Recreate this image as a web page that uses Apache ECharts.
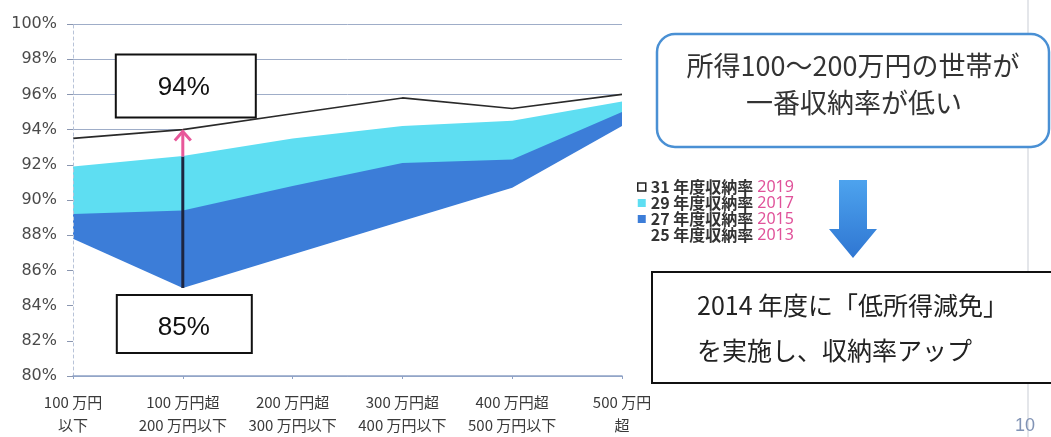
<!DOCTYPE html>
<html><head><meta charset="utf-8">
<script src="https://cdn.jsdelivr.net/npm/echarts@6/dist/echarts.min.js"></script>
<style>html,body{margin:0;padding:0;background:#fff;}#c{width:1051px;height:437px;}</style>
</head><body><div id="c"></div>
<script>
const categories = ['100 万円\n以下', '100 万円超\n200 万円以下', '200 万円超\n300 万円以下', '300 万円超\n400 万円以下', '400 万円超\n500 万円以下', '500 万円\n超'];
const yMin = 80, yMax = 100, yStep = 2;
const rate2019 = [93.5, 94.0, 94.9, 95.8, 95.2, 96.0];
const rate2017 = [91.9, 92.5, 93.5, 94.2, 94.5, 95.6];
const rate2015 = [89.2, 89.4, 90.8, 92.1, 92.3, 95.0];
const rate2013 = [87.8, 85.0, 86.9, 88.8, 90.7, 94.2];
const seriesNames = ['31 年度収納率', '29 年度収納率', '27 年度収納率', '25 年度収納率'];
const seriesYears = ['2019', '2017', '2015', '2013'];
const highlightIndex = 1;
const calloutTitle = ['所得100～200万円の世帯が', '一番収納率が低い'];
const noteLines = ['2014 年度に「低所得減免」', 'を実施し、収納率アップ'];

const CYAN = '#5edef2', BLUE = '#3c7dd8';
const chart = echarts.init(document.getElementById('c'), null, {renderer: 'canvas'});

function areaSeries(name, data, color, line) {
  return {
    name, type: 'line', data, symbol: 'none', silent: true, smooth: false,
    lineStyle: line ? {color: '#2a2a2a', width: 1.6} : {width: 0, opacity: 0},
    itemStyle: {color},
    areaStyle: {color, opacity: 1, origin: 'start'}
  };
}

const legendStyles = [
  {color: '#fff', borderColor: '#222', borderWidth: 1.5},
  {color: CYAN},
  {color: BLUE},
  {color: 'rgba(0,0,0,0)', borderWidth: 0}
];

chart.setOption({
  animation: false,
  grid: {left: 73, right: 429, top: 24, bottom: 57, containLabel: false},
  xAxis: [{
    type: 'category', data: categories, boundaryGap: false, z: 5,
    axisLine: {lineStyle: {color: '#8fa2c6', width: 1.5}},
    axisTick: {show: true, length: 3, lineStyle: {color: '#8fa2c6'}},
    axisLabel: {margin: 15, interval: 0, fontFamily: 'Noto Sans CJK JP', fontSize: 15, lineHeight: 23, color: '#3a3a3a'}
  }],
  yAxis: [{
    type: 'value', min: yMin, max: yMax, interval: yStep, z: 5,
    axisLine: {show: true, lineStyle: {color: '#b8c3d8', type: [3, 3]}},
    axisTick: {show: true, length: 6, lineStyle: {color: '#8a96b0'}},
    axisLabel: {margin: 16, formatter: '{value}%', fontFamily: 'DejaVu Sans', fontSize: 16, color: '#4a4a4a'},
    splitLine: {show: false}
  }, {
    type: 'value', min: yMin, max: yMax, interval: yStep, position: 'left',
    axisLine: {show: false}, axisTick: {show: false}, axisLabel: {show: false},
    splitLine: {show: true, lineStyle: {color: '#9fadc8', width: 1}}
  }],
  legend: {
    orient: 'vertical', left: 637, top: 179, itemWidth: 8, itemHeight: 8, itemGap: 0, padding: 0,
    icon: 'rect', selectedMode: false,
    data: seriesNames.map((n, i) => ({name: n, itemStyle: legendStyles[i]})),
    formatter: name => `{a|${name}}{b|${seriesYears[seriesNames.indexOf(name)]}}`,
    textStyle: {
      lineHeight: 16,
      rich: {
        a: {fontFamily: 'Noto Sans CJK JP', fontSize: 16, fontWeight: 'bold', color: '#333', lineHeight: 16},
        b: {fontFamily: 'Noto Sans', fontSize: 16, color: '#e0529a', padding: [0, 0, 0, 4], lineHeight: 16}
      }
    }
  },
  series: [
    areaSeries(seriesNames[0], rate2019, '#ffffff', true),
    areaSeries(seriesNames[1], rate2017, CYAN, false),
    areaSeries(seriesNames[2], rate2015, BLUE, false),
    areaSeries(seriesNames[3], rate2013, '#ffffff', false)
  ]
});

const pTop = chart.convertToPixel({xAxisIndex: 0, yAxisIndex: 0}, [highlightIndex, rate2019[highlightIndex]]);
const pBot = chart.convertToPixel({xAxisIndex: 0, yAxisIndex: 0}, [highlightIndex, rate2013[highlightIndex]]);
const ax = pTop[0], yT = pTop[1], yB = pBot[1];
const Z = 100;
const cjk = '"Noto Sans CJK JP", sans-serif';

chart.setOption({
  graphic: [
    {type: 'line', z: 0, shape: {x1: 1028, y1: 0, x2: 1028, y2: 437}, style: {stroke: '#e4e6ea', lineWidth: 2}},
    {type: 'line', z: Z, shape: {x1: ax, y1: yB, x2: ax, y2: yT + 27}, style: {stroke: '#1d2540', lineWidth: 3}},
    {type: 'line', z: Z, shape: {x1: ax, y1: yT + 27, x2: ax, y2: yT + 3}, style: {stroke: '#e8589a', lineWidth: 3}},
    {type: 'polyline', z: Z, shape: {points: [[ax - 8, yT + 11], [ax, yT + 2], [ax + 8, yT + 11]]}, style: {stroke: '#e8589a', lineWidth: 3, fill: null}},
    {type: 'rect', z: Z, shape: {x: ax - 67, y: yT - 75, width: 140, height: 63}, style: {fill: '#fff', stroke: '#111', lineWidth: 2}},
    {type: 'text', z: Z + 1, style: {text: Math.round(rate2019[highlightIndex]) + '%', x: ax + 1, y: yT - 42, align: 'center', verticalAlign: 'middle', font: '26px "Liberation Sans", sans-serif', fill: '#111'}},
    {type: 'rect', z: Z, shape: {x: ax - 66, y: yB + 7, width: 135, height: 58}, style: {fill: '#fff', stroke: '#111', lineWidth: 2}},
    {type: 'text', z: Z + 1, style: {text: Math.round(rate2013[highlightIndex]) + '%', x: ax + 1, y: yB + 40, align: 'center', verticalAlign: 'middle', font: '26px "Liberation Sans", sans-serif', fill: '#111'}},
    {type: 'rect', z: Z, shape: {x: 657, y: 34, width: 392, height: 113, r: 18}, style: {fill: '#fff', stroke: '#4a90d4', lineWidth: 2.5}},
    {type: 'text', z: Z + 1, style: {text: calloutTitle[0], x: 853, y: 66, align: 'center', verticalAlign: 'middle', font: '27px ' + cjk, fill: '#333'}},
    {type: 'text', z: Z + 1, style: {text: calloutTitle[1], x: 854, y: 103, align: 'center', verticalAlign: 'middle', font: '27px ' + cjk, fill: '#333'}},
    {type: 'polygon', z: Z, shape: {points: [[839, 180], [867, 180], [867, 229], [877, 229], [853, 258], [829, 229], [839, 229]]},
      style: {fill: new echarts.graphic.LinearGradient(0, 0, 0, 1, [{offset: 0, color: '#4da3ee'}, {offset: 1, color: '#2f76d2'}])}},
    {type: 'rect', z: Z, shape: {x: 652, y: 272, width: 420, height: 111}, style: {fill: '#fff', stroke: '#111', lineWidth: 2}},
    {type: 'text', z: Z + 1, style: {text: noteLines[0], x: 697, y: 305, align: 'left', verticalAlign: 'middle', font: '25px ' + cjk, fill: '#222'}},
    {type: 'text', z: Z + 1, style: {text: noteLines[1], x: 697, y: 350, align: 'left', verticalAlign: 'middle', font: '25px ' + cjk, fill: '#222'}},
    {type: 'text', z: Z, style: {text: '10', x: 1025, y: 426, align: 'center', verticalAlign: 'middle', font: '18px "Liberation Sans Narrow", "Liberation Sans", sans-serif', fill: '#8193b5'}}
  ]
});
</script>
</body></html>
